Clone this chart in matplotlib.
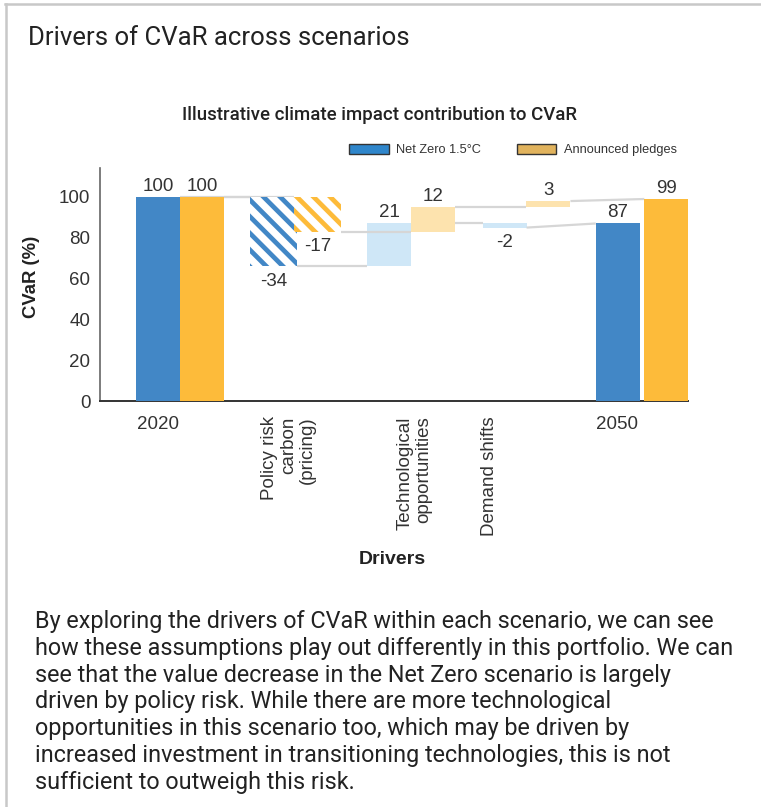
import matplotlib
matplotlib.use("Agg")
import matplotlib.pyplot as plt
from matplotlib.patches import Patch
from matplotlib.lines import Line2D
from matplotlib.transforms import ScaledTranslation

# ---- data -------------------------------------------------------------
categories = ["2020", "Policy risk\ncarbon\n(pricing)", "Technological\nopportunities",
              "Demand shifts", "2050"]
step_kind = ["total", "delta", "delta", "delta", "total"]
net_zero = [100, -34, 21, -2, 87]
pledges = [100, -17, 12, 3, 99]
series_names = ["Net Zero 1.5°C", "Announced pledges"]
y_ticks = [0, 20, 40, 60, 80, 100]

title = "Drivers of CVaR across scenarios"
chart_title = "Illustrative climate impact contribution to CVaR"
paragraph = ("By exploring the drivers of CVaR within each scenario, we can see\n"
             "how these assumptions play out differently in this portfolio. We can\n"
             "see that the value decrease in the Net Zero scenario is largely\n"
             "driven by policy risk. While there are more technological\n"
             "opportunities in this scenario too, which may be driven by\n"
             "increased investment in transitioning technologies, this is not\n"
             "sufficient to outweigh this risk.")

# ---- styling ----------------------------------------------------------
W, H, DPI = 761, 807, 100
CHART_FONT = "Liberation Sans"
TEXT_FONT = "Roboto"
TXT = "#333333"
solid = ["#4287c6", "#fdbb3a"]
light = ["#cfe7f7", "#fde3ae"]
legend_fill = ["#2f86cb", "#e1b35d"]
connector = "#d6d6d6"
bar_width = [0.381, 0.41, 0.381, 0.381, 0.381]
bar_offset = [0.19, 0.19, 0.19, 0.19, 0.21]
tick_shift = [-0.19, 0.94, 2.03, 2.68, 3.785]

plt.rcParams["hatch.linewidth"] = 3.4

fig = plt.figure(figsize=(W / DPI, H / DPI), dpi=DPI)


def fx(px):
    return px / W


def fy(py):
    return 1 - py / H


# card frame
fig.add_artist(Line2D([fx(5), 1], [fy(4), fy(4)], color="#c8c8c8", lw=1.8,
                      transform=fig.transFigure))
fig.add_artist(Line2D([fx(6), fx(6)], [fy(4), 0], color="#c8c8c8", lw=1.8,
                      transform=fig.transFigure))

ax = fig.add_axes([fx(100), fy(401), fx(688) - fx(100), fy(168) - fy(401)])

for s, (values, sign) in enumerate(zip([net_zero, pledges], [-1, 1])):
    running = None
    spans = []
    for i, (v, kind) in enumerate(zip(values, step_kind)):
        x = i + sign * bar_offset[i]
        w = bar_width[i]
        if kind == "total":
            bottom, height = 0, v
            start, end = v, v
        else:
            bottom, height = running, v
            start, end = running, running + v
        running = end
        if kind == "total":
            ax.bar(x, height, w, bottom, color=solid[s], linewidth=0, zorder=3)
        elif i == 1:
            ax.bar(x, height, w, bottom, facecolor="white", edgecolor=solid[s],
                   linewidth=0, hatch="\\\\", zorder=3 + s)
        else:
            ax.bar(x, height, w, bottom, color=light[s], linewidth=0,
                   zorder=1 if s == 0 else 3)
        spans.append((x - w / 2, x + w / 2, start, end))
        top, low = max(bottom, bottom + height), min(bottom, bottom + height)
        label = str(v)
        if kind == "total" or v > 0:
            ax.annotate(label, (x, top), xytext=(0, 7.6), textcoords="offset points",
                        ha="center", va="center", fontsize=13.5, color=TXT,
                        family=CHART_FONT, zorder=6)
        else:
            ax.annotate(label, (x, low), xytext=(0, -10.8), textcoords="offset points",
                        ha="center", va="center", fontsize=13.5, color=TXT,
                        family=CHART_FONT, zorder=6)
    for a, b in zip(spans[:-1], spans[1:]):
        ax.plot([a[1], b[0]], [a[3], b[2]], color=connector, lw=1.6,
                solid_capstyle="butt", zorder=2)

ax.set_xlim(-0.693, 4.398)
ax.set_ylim(0, 114.2)
ax.set_yticks(y_ticks)
ax.set_yticklabels([str(t) for t in y_ticks], family=CHART_FONT, fontsize=13.5, color=TXT)
shift = ScaledTranslation(0, 5 / DPI, fig.dpi_scale_trans)
for lab in ax.get_yticklabels():
    lab.set_transform(lab.get_transform() + shift)
ax.tick_params(axis="y", length=0, pad=7)
ax.set_xticks(tick_shift)
ax.set_xticklabels(categories, family=CHART_FONT, fontsize=13.5, color=TXT)
ax.tick_params(axis="x", length=0, pad=11)
for i, lab in enumerate(ax.get_xticklabels()):
    if 0 < i < 4:
        lab.set_rotation(90)
        lab.set_multialignment("right")
        lab.set_linespacing(1.15)

for side in ("top", "right"):
    ax.spines[side].set_visible(False)
ax.spines["left"].set_color("#666666")
ax.spines["left"].set_linewidth(1.2)
ax.spines["bottom"].set_color("#333333")
ax.spines["bottom"].set_linewidth(1.4)
ax.patch.set_alpha(0)

# legend
handles = [Patch(facecolor=c, edgecolor="#333333", linewidth=1.0) for c in legend_fill]
fig.legend(handles, series_names, loc="center", bbox_to_anchor=(fx(513), fy(150)),
           ncol=2, frameon=False, prop={"family": CHART_FONT, "size": 9.2},
           handlelength=3.1, handleheight=0.85, handletextpad=0.6, columnspacing=2.8,
           labelcolor=TXT)

# headings and labels
fig.text(fx(28), fy(38), title, ha="left", va="center", fontsize=18.5,
         family=TEXT_FONT, color="#222222")
fig.text(fx(380), fy(115), chart_title, ha="center", va="center", fontsize=13.4,
         family="Roboto", weight="medium", color="#222222")
fig.text(fx(32), fy(277), "CVaR (%)", ha="center", va="center", rotation=90,
         fontsize=13.3, weight="bold", family=CHART_FONT, color="#222222")
fig.text(fx(392), fy(560), "Drivers", ha="center", va="center", fontsize=14,
         weight="bold", family=CHART_FONT, color="#222222")
fig.text(fx(35), fy(610), paragraph, ha="left", va="top", fontsize=16.8,
         family=TEXT_FONT, color="#222222", linespacing=1.21)

fig.savefig("out.png", dpi=DPI)
